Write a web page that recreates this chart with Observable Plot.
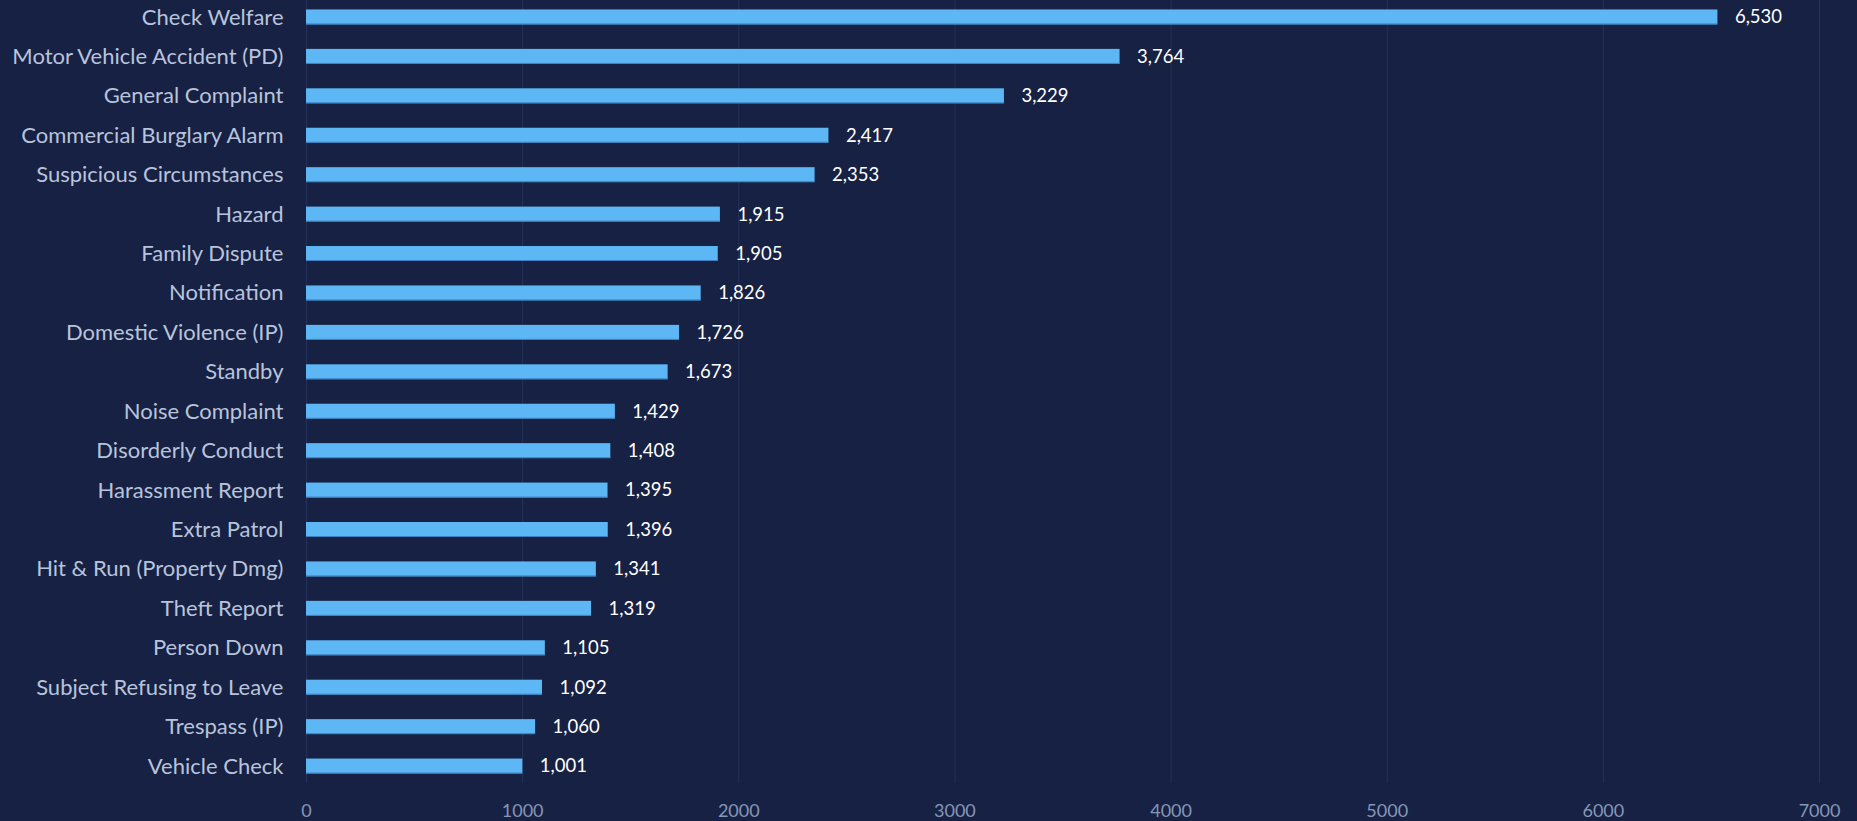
<!DOCTYPE html>
<html>
<head>
<meta charset="utf-8">
<script src="https://cdn.jsdelivr.net/npm/d3@7"></script>
<script src="https://cdn.jsdelivr.net/npm/@observablehq/plot@0.6"></script>
<style>
  html, body { margin: 0; padding: 0; background: #172143; overflow: hidden; }
  #chart svg { display: block; }
</style>
</head>
<body>
<div id="chart"></div>
<script>
const categories = [
  "Check Welfare", "Motor Vehicle Accident (PD)", "General Complaint", "Commercial Burglary Alarm",
  "Suspicious Circumstances", "Hazard", "Family Dispute", "Notification", "Domestic Violence (IP)",
  "Standby", "Noise Complaint", "Disorderly Conduct", "Harassment Report", "Extra Patrol",
  "Hit & Run (Property Dmg)", "Theft Report", "Person Down", "Subject Refusing to Leave",
  "Trespass (IP)", "Vehicle Check"
];
const counts = [6530, 3764, 3229, 2417, 2353, 1915, 1905, 1826, 1726, 1673, 1429, 1408, 1395, 1396, 1341, 1319, 1105, 1092, 1060, 1001];
const xTicks = [0, 1000, 2000, 3000, 4000, 5000, 6000, 7000];

const data = categories.map((c, i) => ({category: c, count: counts[i]}));
const fmt = d3.format(",");

const chart = Plot.plot({
  width: 1857,
  height: 821,
  marginTop: 0,
  marginBottom: 38,
  marginLeft: 306,
  marginRight: 38,
  style: {background: "#172143", fontFamily: "Lato, sans-serif", overflow: "visible"},
  x: {domain: [0, 7000], ticks: xTicks},
  y: {domain: categories, paddingInner: 0.62, paddingOuter: 0.24, round: false},
  marks: [
    Plot.ruleX(xTicks, {stroke: "#24315a", strokeWidth: 1}),
    Plot.barX(data, {x: "count", y: "category", fill: "#5db7f5"}),
    Plot.barX(data, {x: "count", y: "category", fill: "#3b7fbf", insetTop: 14}),
    Plot.text(data, {x: "count", y: "category", text: d => fmt(d.count), textAnchor: "start", dx: 17, fill: "#ffffff", fontSize: 18.5}),
    Plot.axisY({tickSize: 0, tickPadding: 23, fontSize: 22, color: "#b8c4dc", label: null}),
    Plot.axisX({ticks: xTicks, tickSize: 0, tickPadding: 21, fontSize: 18, color: "#8597b8", label: null, tickFormat: d => String(d)})
  ]
});
document.getElementById("chart").appendChild(chart);
</script>
</body>
</html>
